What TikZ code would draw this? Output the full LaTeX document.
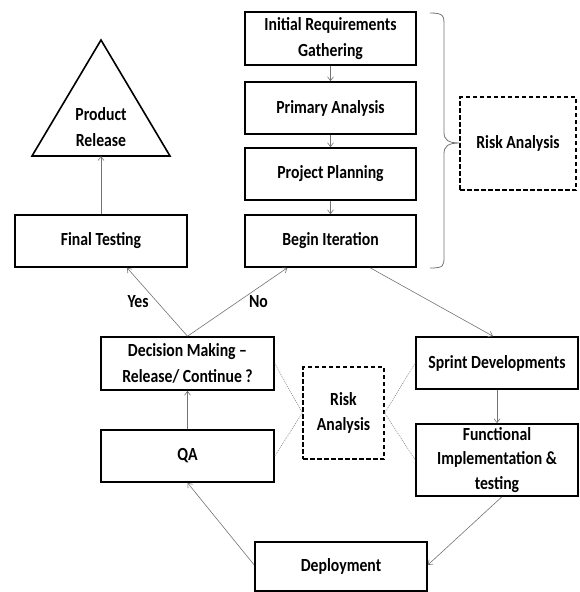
\documentclass[tikz,border=0pt]{standalone}
\usepackage{fontspec}
\setmainfont{Carlito}[FakeStretch=0.85]
\usetikzlibrary{arrows.meta,calc}
\begin{document}
\begin{tikzpicture}[x=1pt,y=-1pt,
  box/.style={draw=black,line width=1.6pt,minimum width=#1,inner sep=2pt,align=center,
    font=\fontsize{18.5}{25.5}\selectfont\bfseries},
  box/.default=172pt,
  riskbox/.style={draw=black,line width=1.4pt,dash pattern=on 4.5pt off 2.5pt,align=center,
    font=\fontsize{18.5}{25.5}\selectfont\bfseries},
  conn/.style={draw=black!55,line width=0.6pt,-{Straight Barb[length=4pt,width=6pt]}},
  faint/.style={draw=black!50,line width=0.55pt,dash pattern=on 1pt off 1pt},
  lbl/.style={font=\fontsize{18.5}{20}\selectfont\bfseries}
]
\useasboundingbox (0,0) rectangle (579,592);
% top column
\node[box=171pt,minimum height=53pt] (init) at (330.5,38.5) {Initial Requirements\\Gathering};
\node[box=171pt,minimum height=52pt] (prim) at (330.5,108) {Primary Analysis};
\node[box=171pt,minimum height=52pt] (plan) at (330.5,174) {Project Planning};
\node[box=171pt,minimum height=52pt] (begin) at (330.5,241) {Begin Iteration};
\node[riskbox,minimum width=116pt,minimum height=93pt] (risk1) at (518,143.5) {Risk Analysis};
% brace
\draw[black!55,line width=0.8pt] (430,13) .. controls (444,13) and (444,16) .. (444,26)
  -- (444,132) .. controls (444,140) and (448,143) .. (460,143)
  .. controls (448,143) and (444,146) .. (444,154)
  -- (444,256) .. controls (444,266) and (444,268) .. (430,268);
% product release
\coordinate (triA) at (101,40);
\coordinate (triB) at (32,156);
\coordinate (triC) at (170,156);
\coordinate (triBase) at (101,156);
\draw[black,line width=1.6pt,line join=miter] (triA) -- (triB) -- (triC) -- cycle;
\node[align=center,font=\fontsize{18.5}{25.5}\selectfont\bfseries] (rel) at (101,127) {Product\\Release};
\node[box=172pt,minimum height=52pt] (final) at (101,241) {Final Testing};
% middle
\node[box=173pt,minimum height=53pt] (dec) at (187.5,363.5) {Decision Making –\\Release/ Continue ?};
\node[box=173pt,minimum height=52pt] (qa) at (187.5,456) {QA};
\node[riskbox,minimum width=81pt,minimum height=92pt] (risk2) at (343.5,413) {Risk\\Analysis};
\node[box=162pt,minimum height=52pt] (sprint) at (497,363) {Sprint Developments};
\node[box=162pt,minimum height=72pt,inner sep=0pt,font=\fontsize{18.5}{24.5}\selectfont\bfseries] (func) at (497,460) {Functional\\Implementation \&\\testing};
\node[box=172pt,minimum height=49pt] (deploy) at (341,566.5) {Deployment};
% connectors
\draw[conn] (init) -- (prim);
\draw[conn] (prim) -- (plan);
\draw[conn] (plan) -- (begin);
\draw[conn] (final) -- (triBase);
\draw[conn] (dec.north) -- node[lbl,pos=0.5,left=5pt] (yes) {Yes} ($(final.south west)!0.65!(final.south east)$);
\draw[conn] (dec.north) -- node[lbl,pos=0.5,right=8pt] (no) {No} ($(begin.south west)!0.25!(begin.south east)$);
\draw[conn] ($(begin.south west)!0.73!(begin.south east)$) -- ($(sprint.north west)!0.475!(sprint.north east)$);
\draw[conn] (sprint) -- (func);
\draw[conn] ($(func.south west)!0.53!(func.south east)$) -- ($(deploy.north east)!0.47!(deploy.south east)$);
\draw[conn] ($(deploy.north west)!0.47!(deploy.south west)$) -- (qa.south);
\draw[conn] (qa) -- (dec);
\draw[faint] (dec.east) -- (risk2.west);
\draw[faint] (qa.east) -- (risk2.west);
\draw[faint] (risk2.east) -- (sprint.west);
\draw[faint] (risk2.east) -- (func.west);
\end{tikzpicture}
\end{document}
